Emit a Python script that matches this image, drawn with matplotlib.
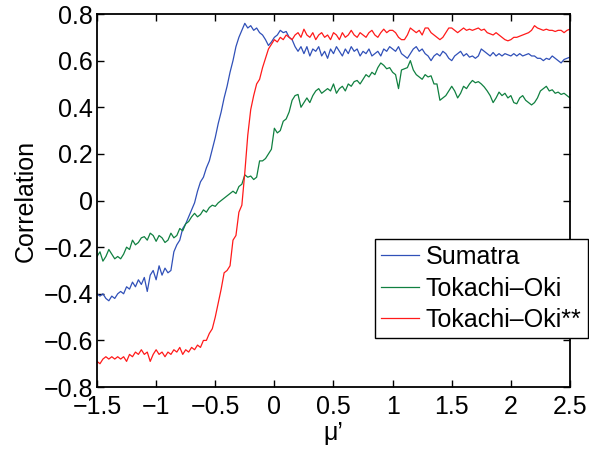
import numpy as np
import matplotlib
matplotlib.use("Agg")
import matplotlib.pyplot as plt

# correlation vs mu', sampled every 0.025 from -1.5 to 2.5
sumatra = [
    -0.40, -0.41, -0.40, -0.42, -0.43, -0.41, -0.42, -0.40,
    -0.39, -0.40, -0.37, -0.38, -0.35, -0.37, -0.34, -0.36,
    -0.33, -0.39, -0.32, -0.30, -0.34, -0.28, -0.32, -0.29,
    -0.31, -0.30, -0.22, -0.19, -0.17, -0.12, -0.10, -0.07,
    -0.04, -0.01, 0.04, 0.08, 0.10, 0.14, 0.17, 0.22,
    0.27, 0.33, 0.38, 0.44, 0.49, 0.55, 0.60, 0.66,
    0.70, 0.73, 0.76, 0.74, 0.75, 0.73, 0.74, 0.72,
    0.71, 0.69, 0.665, 0.68, 0.70, 0.71, 0.73, 0.72,
    0.725, 0.70, 0.69, 0.66, 0.64, 0.66, 0.63, 0.66,
    0.62, 0.65, 0.64, 0.66, 0.62, 0.64, 0.61, 0.65,
    0.63, 0.66, 0.64, 0.62, 0.65, 0.63, 0.66, 0.64,
    0.65, 0.62, 0.64, 0.63, 0.65, 0.62, 0.63, 0.64,
    0.62, 0.65, 0.64, 0.66, 0.65, 0.64, 0.66, 0.63,
    0.62, 0.61, 0.63, 0.65, 0.66, 0.64, 0.65, 0.63,
    0.62, 0.60, 0.62, 0.63, 0.62, 0.64, 0.63, 0.61,
    0.60, 0.62, 0.63, 0.64, 0.62, 0.63, 0.615, 0.62,
    0.61, 0.62, 0.65, 0.64, 0.63, 0.62, 0.635, 0.62,
    0.63, 0.62, 0.63, 0.625, 0.62, 0.63, 0.62, 0.63,
    0.62, 0.625, 0.63, 0.62, 0.62, 0.61, 0.61, 0.60,
    0.61, 0.605, 0.62, 0.61, 0.60, 0.59, 0.605, 0.61,
    0.615,
]

tokachi = [
    -0.24, -0.22, -0.26, -0.24, -0.21, -0.23, -0.25, -0.24,
    -0.25, -0.23, -0.20, -0.21, -0.17, -0.19, -0.18, -0.16,
    -0.155, -0.17, -0.14, -0.15, -0.175, -0.15, -0.16, -0.18,
    -0.17, -0.14, -0.16, -0.15, -0.12, -0.13, -0.10, -0.09,
    -0.07, -0.055, -0.07, -0.06, -0.04, -0.05, -0.03, -0.02,
    -0.025, -0.01, 0.00, 0.01, 0.02, 0.03, 0.04, 0.03,
    0.06, 0.07, 0.11, 0.10, 0.105, 0.09, 0.10, 0.17,
    0.17, 0.18, 0.20, 0.22, 0.31, 0.29, 0.30, 0.34,
    0.35, 0.38, 0.43, 0.45, 0.455, 0.40, 0.42, 0.44,
    0.42, 0.45, 0.47, 0.48, 0.46, 0.47, 0.48, 0.47,
    0.50, 0.46, 0.48, 0.49, 0.47, 0.50, 0.49, 0.51,
    0.515, 0.50, 0.52, 0.54, 0.53, 0.55, 0.54, 0.57,
    0.59, 0.58, 0.565, 0.57, 0.55, 0.54, 0.48, 0.56,
    0.565, 0.57, 0.60, 0.56, 0.54, 0.53, 0.52, 0.54,
    0.53, 0.535, 0.50, 0.50, 0.43, 0.44, 0.45, 0.47,
    0.49, 0.47, 0.44, 0.46, 0.49, 0.48, 0.50, 0.515,
    0.505, 0.51, 0.50, 0.487, 0.47, 0.45, 0.42, 0.44,
    0.465, 0.45, 0.46, 0.44, 0.45, 0.42, 0.415, 0.44,
    0.45, 0.43, 0.42, 0.41, 0.42, 0.44, 0.47, 0.48,
    0.49, 0.47, 0.475, 0.46, 0.465, 0.455, 0.46, 0.45,
    0.44,
]

tokachi_ss = [
    -0.69, -0.70, -0.68, -0.67, -0.68, -0.67, -0.68, -0.67,
    -0.68, -0.67, -0.69, -0.66, -0.67, -0.65, -0.66, -0.64,
    -0.66, -0.65, -0.69, -0.66, -0.64, -0.66, -0.65, -0.67,
    -0.65, -0.66, -0.64, -0.65, -0.63, -0.66, -0.64, -0.65,
    -0.63, -0.64, -0.62, -0.63, -0.60, -0.60, -0.57, -0.55,
    -0.50, -0.44, -0.38, -0.31, -0.30, -0.28, -0.17, -0.15,
    -0.05, -0.02, 0.12, 0.28, 0.39, 0.45, 0.50, 0.52,
    0.57, 0.61, 0.65, 0.67, 0.69, 0.68, 0.70, 0.69,
    0.71, 0.70, 0.69, 0.71, 0.72, 0.70, 0.735, 0.71,
    0.70, 0.72, 0.69, 0.71, 0.72, 0.70, 0.71, 0.69,
    0.72, 0.71, 0.69, 0.72, 0.70, 0.71, 0.73, 0.71,
    0.70, 0.72, 0.71, 0.70, 0.72, 0.73, 0.71, 0.70,
    0.72, 0.735, 0.72, 0.73, 0.73, 0.72, 0.70, 0.69,
    0.69, 0.71, 0.74, 0.73, 0.72, 0.73, 0.71, 0.74,
    0.74, 0.72, 0.71, 0.70, 0.69, 0.70, 0.72, 0.74,
    0.74, 0.73, 0.72, 0.73, 0.74, 0.73, 0.735, 0.73,
    0.735, 0.74, 0.73, 0.735, 0.72, 0.715, 0.71, 0.72,
    0.71, 0.70, 0.69, 0.685, 0.69, 0.70, 0.70, 0.705,
    0.71, 0.715, 0.72, 0.73, 0.75, 0.74, 0.735, 0.73,
    0.735, 0.73, 0.73, 0.725, 0.73, 0.73, 0.72, 0.73,
    0.735,
]

labels = ["Sumatra", "Tokachi\u2013Oki", "Tokachi\u2013Oki**"]
colors = ["#3050b8", "#108040", "#ff1a1a"]

plt.rcParams['font.family'] = ['Liberation Sans', 'DejaVu Sans']
FS = 18

fig = plt.figure(figsize=(5.89, 4.49), dpi=100)
ax = fig.add_axes([0.1647, 0.138, 0.803, 0.8308])

for series, lab, col in zip([sumatra, tokachi, tokachi_ss], labels, colors):
    mu = np.linspace(-1.5, 2.5, len(series))
    ax.plot(mu, series, color=col, lw=0.9, label=lab)

ax.set_xlim(-1.5, 2.5)
ax.set_ylim(-0.8, 0.8)
ax.set_xticks([-1.5, -1, -0.5, 0, 0.5, 1, 1.5, 2, 2.5])
ax.set_yticks([-0.8, -0.6, -0.4, -0.2, 0, 0.2, 0.4, 0.6, 0.8])
ax.set_xticklabels(["\u22121.5", "\u22121", "\u22120.5", "0", "0.5", "1", "1.5", "2", "2.5"])
ax.set_yticklabels(["\u22120.8", "\u22120.6", "\u22120.4", "\u22120.2", "0", "0.2", "0.4", "0.6", "0.8"])
ax.tick_params(direction='in', top=True, right=True, length=5, width=1, labelsize=FS)
ax.tick_params(axis='x', pad=6)
ax.tick_params(axis='y', pad=3)
for s in ax.spines.values():
    s.set_linewidth(1.3)

ax.set_xlabel("\u03bc\u2019", fontsize=FS, labelpad=1)
ax.set_ylabel("Correlation", fontsize=FS, labelpad=4)

leg = ax.legend(loc='upper left', bbox_to_anchor=(0.588, 0.397), fontsize=FS,
                frameon=True, fancybox=False, edgecolor='black', framealpha=1,
                handlelength=1.5, handletextpad=0.28, labelspacing=0.3,
                borderpad=0.25, borderaxespad=0)
leg.get_frame().set_linewidth(1.0)

plt.savefig("out.png", dpi=100)
